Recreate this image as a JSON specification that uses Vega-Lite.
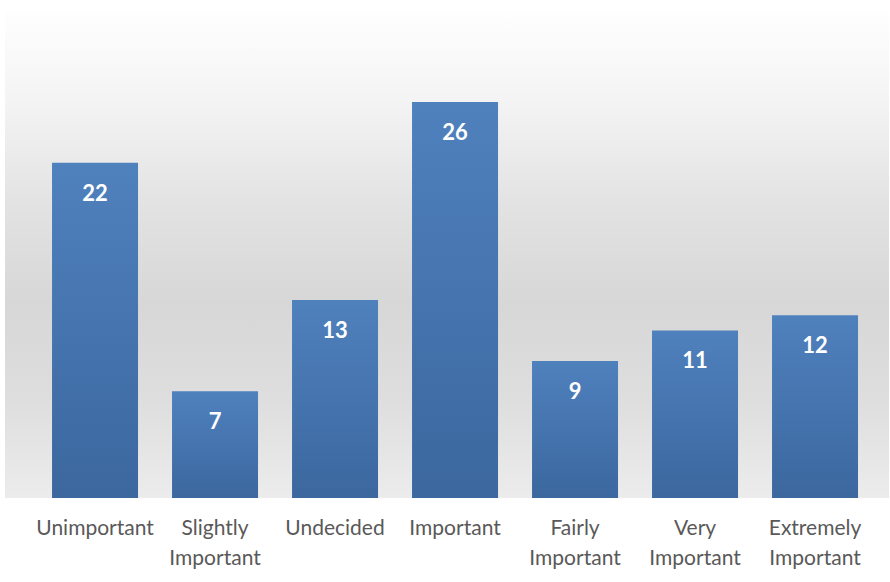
{
  "$schema": "https://vega.github.io/schema/vega-lite/v6.json",
  "autosize": "none",
  "width": 884,
  "height": 486,
  "padding": {"left": 5, "top": 12, "right": 1, "bottom": 84},
  "background": "#ffffff",
  "config": {
    "view": {
      "stroke": null,
      "fill": {
        "gradient": "linear", "x1": 0, "y1": 0, "x2": 0, "y2": 1,
        "stops": [
          {"offset": 0, "color": "#fefefe"},
          {"offset": 0.18, "color": "#f4f4f4"},
          {"offset": 0.39, "color": "#e3e3e3"},
          {"offset": 0.6, "color": "#d7d7d7"},
          {"offset": 0.8, "color": "#dedede"},
          {"offset": 1, "color": "#ececec"}
        ]
      }
    },
    "font": "Lato"
  },
  "data": {
    "values": [
      {"category": "Unimportant", "value": 22},
      {"category": "Slightly Important", "value": 7},
      {"category": "Undecided", "value": 13},
      {"category": "Important", "value": 26},
      {"category": "Fairly Important", "value": 9},
      {"category": "Very Important", "value": 11},
      {"category": "Extremely Important", "value": 12}
    ]
  },
  "encoding": {
    "x": {
      "field": "category",
      "type": "nominal",
      "sort": null,
      "scale": {"paddingInner": 0.2833, "paddingOuter": 0.325, "align": 0.603},
      "axis": {
        "title": null,
        "domain": false,
        "ticks": false,
        "grid": false,
        "labelAngle": 0,
        "labelFont": "Lato",
        "labelFontSize": 21,
        "labelColor": "#595959",
        "labelLineHeight": 30,
        "labelPadding": 19,
        "labelBaseline": "top",
        "labelExpr": "split(datum.label, ' ')"
      }
    },
    "y": {
      "field": "value",
      "type": "quantitative",
      "scale": {"domain": [0, 31.9], "nice": false},
      "axis": null
    }
  },
  "layer": [
    {
      "mark": {
        "type": "bar",
        "color": {
          "gradient": "linear", "x1": 0, "y1": 0, "x2": 0, "y2": 1,
          "stops": [
            {"offset": 0, "color": "#4f81bd"},
            {"offset": 1, "color": "#3c679f"}
          ]
        }
      }
    },
    {
      "mark": {
        "type": "text",
        "color": "#ffffff",
        "fontWeight": "bold",
        "fontSize": 22,
        "font": "Lato",
        "baseline": "middle",
        "dy": 31
      },
      "encoding": {"text": {"field": "value", "type": "quantitative"}}
    }
  ]
}
